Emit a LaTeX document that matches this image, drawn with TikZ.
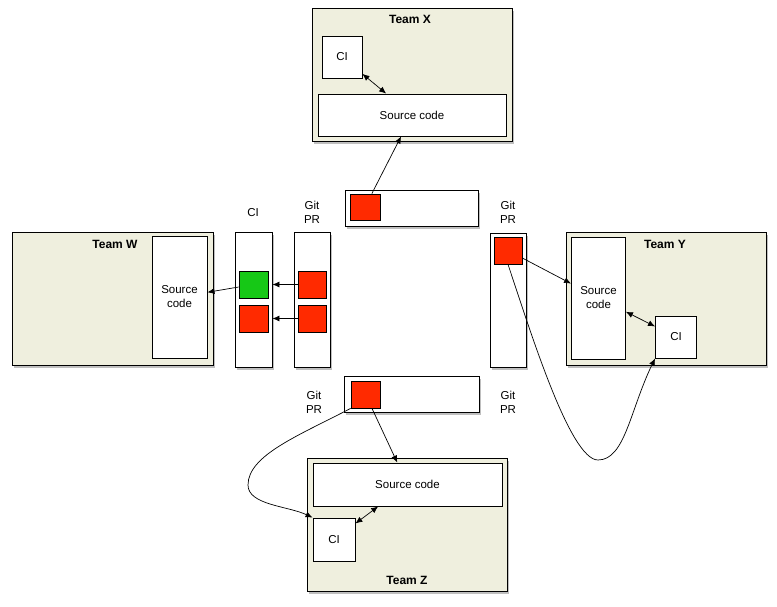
\documentclass[tikz,border=0pt]{standalone}
\usepackage{fontspec}
\setmainfont{Liberation Sans}
\usetikzlibrary{arrows.meta,shadows}
\definecolor{teamfill}{RGB}{239,239,222}
\definecolor{prred}{RGB}{255,42,0}
\definecolor{cigreen}{RGB}{22,200,22}
\begin{document}
\begin{tikzpicture}[x=1pt, y=-1pt,
    every node/.style={font=\fontsize{11.5}{14}\selectfont, inner sep=0pt},
    every edge/.style={draw, line width=0.7pt},
    >={Latex[length=7pt,width=6pt]},
    shade/.style={drop shadow={shadow xshift=1.5pt, shadow yshift=-3pt, opacity=0.5}},
    team/.style={draw, fill=teamfill, line width=0.9pt, shade},
    box/.style={draw, fill=white, line width=0.9pt, align=center},
    bar/.style={draw, fill=white, line width=0.9pt, shade},
    sq/.style={draw, line width=0.8pt, minimum width=29, minimum height=27},
    title/.style={font=\fontsize{12}{14}\selectfont\bfseries},
    lbl/.style={align=center}]
    \useasboundingbox (0,0) rectangle (777,607);
    % team boxes
    \node [team, minimum width=200, minimum height=133] (X) at (412,74.5) {};
    \node [team, minimum width=201, minimum height=133] (W) at (112.5,298.5) {};
    \node [team, minimum width=200, minimum height=133] (Y) at (666,298.5) {};
    \node [team, minimum width=200, minimum height=133] (Z) at (407,524.5) {};
    \node [title] (X_t) at (410,19) {Team X};
    \node [title] (W_t) at (115,244) {Team W};
    \node [title] (Y_t) at (665,244) {Team Y};
    \node [title] (Z_t) at (407,580) {Team Z};
    % inside the teams
    \node [box, minimum width=40, minimum height=42] (X_ci) at (342,57) {CI};
    \node [box, minimum width=188, minimum height=42] (X_src) at (412,115) {Source code};
    \node [box, minimum width=55, minimum height=122] (W_src) at (179.5,297) {Source\\code};
    \node [box, minimum width=54, minimum height=122] (Y_src) at (598.5,298) {Source\\code};
    \node [box, minimum width=41, minimum height=42] (Y_ci) at (676,337) {CI};
    \node [box, minimum width=189, minimum height=43] (Z_src) at (407.5,484.5) {Source code};
    \node [box, minimum width=42, minimum height=43] (Z_ci) at (334,539.5) {CI};
    % pull request bars and CI column
    \node [bar, minimum width=133, minimum height=36] (PR_x) at (411.5,208) {};
    \node [bar, minimum width=37, minimum height=135] (CI_w) at (253.5,299.5) {};
    \node [bar, minimum width=36, minimum height=135] (PR_w) at (312,299.5) {};
    \node [bar, minimum width=36, minimum height=134] (PR_y) at (508.5,300) {};
    \node [bar, minimum width=135, minimum height=36] (PR_z) at (411.5,394) {};
    \node [lbl] (L_ci) at (253,213) {CI};
    \node [lbl] (L_w) at (312,212) {Git\\PR};
    \node [lbl] (L_y) at (508,212) {Git\\PR};
    \node [lbl] (L_z) at (314,402) {Git\\PR};
    \node [lbl] (L_zy) at (508,402) {Git\\PR};
    % commits
    \node [sq, fill=prred, minimum width=30, minimum height=26] (R_x) at (365,207) {};
    \node [sq, fill=cigreen] (G_w1) at (253.5,284.5) {};
    \node [sq, fill=prred] (R_w2) at (253.5,318.5) {};
    \node [sq, fill=prred, minimum width=28] (R_w3) at (312,284.5) {};
    \node [sq, fill=prred, minimum width=28] (R_w4) at (312,318.5) {};
    \node [sq, fill=prred, minimum width=28] (R_y) at (508,250.5) {};
    \node [sq, fill=prred] (R_z) at (365.5,394.5) {};
    % connectors
    \path (X_ci) edge [<->] (X_src);
    \path (R_x) edge [->] (X_src);
    \path (R_w3.west) edge [->] (R_w3.west -| CI_w.east);
    \path (R_w4.west) edge [->] (R_w4.west -| CI_w.east);
    \path (G_w1) edge [->] (W_src);
    \path (R_y) edge [->] (Y_src);
    \path (Y_src) edge [<->] (Y_ci);
    \path (R_z) edge [->] (Z_src);
    \path (Z_ci) edge [<->] (Z_src);
    \draw [->, line width=0.7pt] (R_y.south) .. controls (530,330) and (570,460) .. (598,460)
        .. controls (625,460) and (630,410) .. (Y_ci.south west);
    \draw [->, line width=0.7pt] (R_z.south west) .. controls (300,435) and (248,455) .. (248,485)
        .. controls (248,505) and (288,506) .. (Z_ci.north west);
\end{tikzpicture}
\end{document}
